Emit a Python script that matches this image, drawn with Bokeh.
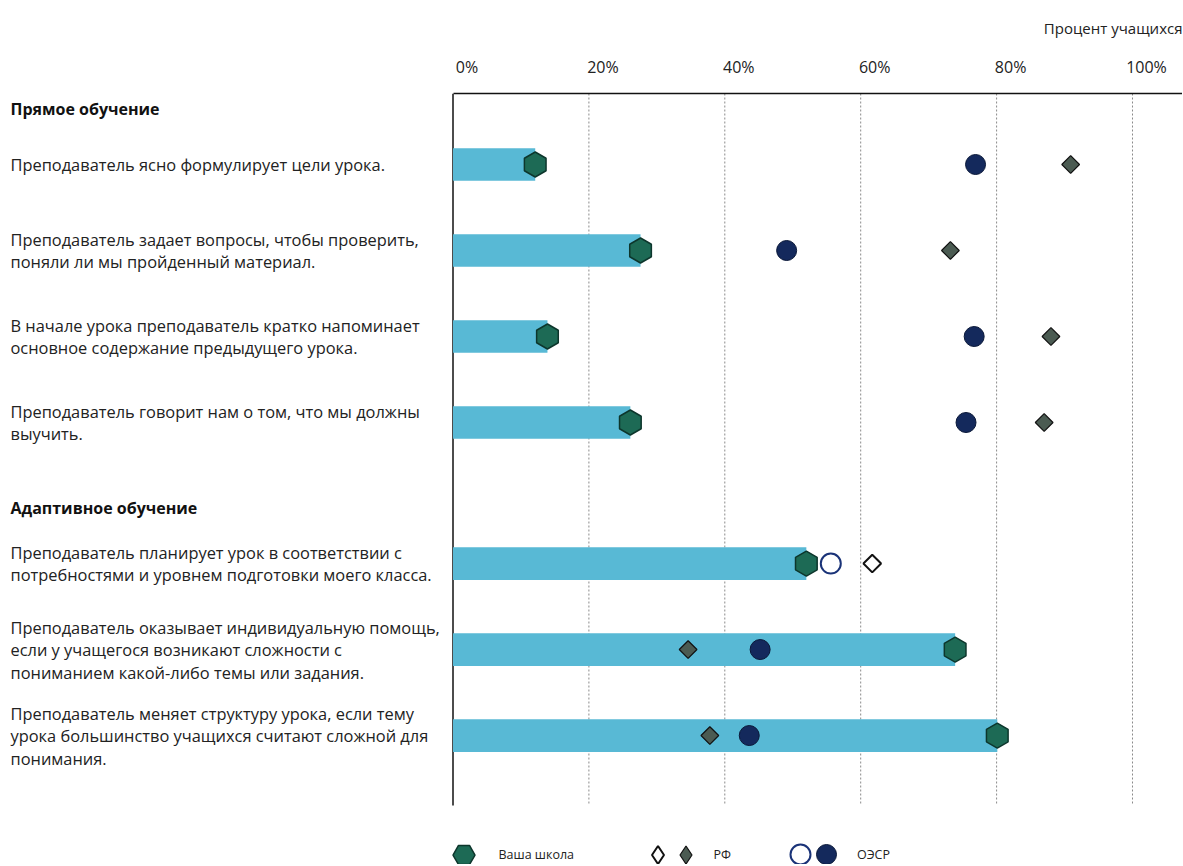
import math
from bokeh.plotting import figure
from bokeh.models import (ColumnDataSource, Range1d, Legend, LegendItem, FixedTicker,
                          LinearAxis)
from bokeh.core.properties import value
from bokeh.embed import file_html
from bokeh.resources import INLINE

# ---------------- data ----------------
groups = ["Прямое обучение", "Адаптивное обучение"]
statements = [
    "Преподаватель ясно формулирует цели урока.",
    "Преподаватель задает вопросы, чтобы проверить,\nпоняли ли мы пройденный материал.",
    "В начале урока преподаватель кратко напоминает\nосновное содержание предыдущего урока.",
    "Преподаватель говорит нам о том, что мы должны\nвыучить.",
    "Преподаватель планирует урок в соответствии с\nпотребностями и уровнем подготовки моего класса.",
    "Преподаватель оказывает индивидуальную помощь,\nесли у учащегося возникают сложности с\nпониманием какой-либо темы или задания.",
    "Преподаватель меняет структуру урока, если тему\nурока большинство учащихся считают сложной для\nпонимания.",
]
statement_group = [0, 0, 0, 0, 1, 1, 1]
school = [12.1, 27.6, 13.9, 26.1, 52.0, 73.9, 80.1]
rf = [90.9, 73.2, 88.0, 87.0, 61.7, 34.6, 37.8]
oecd = [76.9, 49.1, 76.7, 75.5, 55.6, 45.2, 43.6]
rf_significant = [True, True, True, True, False, True, True]
oecd_significant = [True, True, True, True, False, True, True]
ticks = [0, 20, 40, 60, 80, 100]
tick_labels = ["0%", "20%", "40%", "60%", "80%", "100%"]
axis_title = "Процент учащихся"
legend_labels = ["Ваша школа", "РФ", "ОЭСР"]

# ---------------- layout helpers ----------------
FONT = "Open Sans"
W, H = 1182, 864
PX_PER_UNIT = 6.795          # px per percent
ZERO_PX = 452.5              # frame px of 0%
X0 = -ZERO_PX / PX_PER_UNIT
X1 = (W - ZERO_PX) / PX_PER_UNIT
TOP_BORDER = 93
ROW_PX = 86.0
Y_TOP = -(164.0 - TOP_BORDER) / ROW_PX
Y_BOT = Y_TOP + (H - TOP_BORDER) / ROW_PX
GROUP_GAP = 0.64
Y_AXIS_END = (805.0 - 164.0) / ROW_PX
LABEL_X = X0 + 10.0 / PX_PER_UNIT
LABEL_SHIFT = 14.0 / PX_PER_UNIT   # tick labels sit to the right of their tick

ypos = [i + GROUP_GAP * g for i, g in enumerate(statement_group)]
header_y = []
for g in range(len(groups)):
    first = statement_group.index(g)
    header_y.append(ypos[first] - 0.65)

src = ColumnDataSource(dict(y=ypos, school=school, label=statements))
rf_f = ColumnDataSource(dict(x=[v for v, s in zip(rf, rf_significant) if s],
                             y=[y for y, s in zip(ypos, rf_significant) if s]))
rf_o = ColumnDataSource(dict(x=[v for v, s in zip(rf, rf_significant) if not s],
                             y=[y for y, s in zip(ypos, rf_significant) if not s]))
oe_f = ColumnDataSource(dict(x=[v for v, s in zip(oecd, oecd_significant) if s],
                             y=[y for y, s in zip(ypos, oecd_significant) if s]))
oe_o = ColumnDataSource(dict(x=[v for v, s in zip(oecd, oecd_significant) if not s],
                             y=[y for y, s in zip(ypos, oecd_significant) if not s]))
hdr = ColumnDataSource(dict(y=header_y, label=groups))
grid_src = ColumnDataSource(dict(x=[t for t in ticks if t > 0]))

p = figure(width=W, height=H, x_range=Range1d(X0, X1), y_range=Range1d(Y_BOT, Y_TOP),
           output_backend="svg", toolbar_location=None, x_axis_location=None,
           y_axis_location=None, min_border_left=0, min_border_right=0,
           min_border_bottom=0, min_border_top=TOP_BORDER, outline_line_color=None)
p.grid.visible = False
p.extra_x_ranges = {"lab": Range1d(X0 - LABEL_SHIFT, X1 - LABEL_SHIFT)}

# title
p.title.text = axis_title
p.title.align = "right"
p.title.text_font = FONT
p.title.text_font_style = "normal"
p.title.text_font_size = "15px"
p.title.text_color = "#222222"
p.title.standoff = 30

# top axis (labels drawn slightly right of their tick, as in the source chart)
ax = LinearAxis(x_range_name="lab")
ax.ticker = FixedTicker(ticks=ticks)
ax.major_label_overrides = {t: l for t, l in zip(ticks, tick_labels)}
ax.bounds = (0 - LABEL_SHIFT, X1 - LABEL_SHIFT)
ax.axis_line_color = "#111111"
ax.axis_line_width = 1.5
ax.major_tick_in = 0
ax.major_tick_out = 0
ax.minor_tick_out = 0
ax.minor_tick_in = 0
ax.major_label_standoff = 16
ax.major_label_text_font = FONT
ax.major_label_text_font_size = "16px"
ax.major_label_text_color = "#222222"
p.add_layout(ax, "above")

# grid lines and vertical axis line
p.segment(x0="x", x1="x", y0=Y_TOP, y1=Y_AXIS_END, source=grid_src,
          line_color="#8a8a8a", line_width=1, line_dash="2 2")
p.segment(x0=0, x1=0, y0=Y_TOP, y1=Y_AXIS_END, line_color="#111111", line_width=1.5)

# bars
p.hbar(y="y", left=0, right="school", height=0.38, source=src,
       fill_color="#58b9d5", line_color=None)

# markers
r_rf_f = p.scatter(x="x", y="y", source=rf_f, marker="square", angle=math.pi / 4, size=12.5,
                   fill_color="#4b5b52", line_color="#111111", line_width=1.2)
r_rf_o = p.scatter(x="x", y="y", source=rf_o, marker="square", angle=math.pi / 4, size=12.5,
                   fill_color="white", line_color="#111111", line_width=2)
r_oe_f = p.scatter(x="x", y="y", source=oe_f, marker="circle", size=20,
                   fill_color="#14295c", line_color="#0a1838", line_width=1)
r_oe_o = p.scatter(x="x", y="y", source=oe_o, marker="circle", size=20,
                   fill_color="white", line_color="#1a3378", line_width=2)
r_school = p.scatter(x="school", y="y", source=src, marker="hex", angle=math.pi / 2, size=25,
                     fill_color="#1d6a55", line_color="#0d362c", line_width=1.5)

# legend-only diamond swatches (legend glyphs are drawn unrotated); hidden in the plot
lg_rf_f = p.scatter(x="x", y="y", source=rf_f, marker="diamond", size=12, visible=False,
                    fill_color="#4b5b52", line_color="#111111", line_width=1.2)
lg_rf_o = p.scatter(x="x", y="y", source=rf_o, marker="diamond", size=12, visible=False,
                    fill_color="white", line_color="#111111", line_width=2)

# labels
p.text(x=LABEL_X, y="y", text="label", source=src, text_font=value(FONT),
       text_font_size="16.4px", text_baseline="middle", text_align="left",
       text_color="#222222", text_line_height=0.98)
p.text(x=LABEL_X, y="y", text="label", source=hdr, text_font=value(FONT),
       text_font_size="16px", text_font_style="bold", text_baseline="middle",
       text_align="left", text_color="#111111")

# legends
LEG_CY = 10  # legend centre height above the frame bottom

def mk_legend(label, renderer, cx, gw, standoff):
    lg = Legend(items=[LegendItem(label=value(label), renderers=[renderer])],
                location=(cx - gw / 2, LEG_CY - gw / 2), orientation="horizontal",
                glyph_width=gw, glyph_height=gw, label_standoff=standoff,
                spacing=0, padding=0, margin=0, label_width=0,
                border_line_alpha=0, background_fill_alpha=0,
                inactive_fill_alpha=0, click_policy="none",
                label_text_font=FONT, label_text_font_size="12.5px",
                label_text_color="#222222")
    p.add_layout(lg, "center")

mk_legend(legend_labels[0], r_school, 463, 55, 8)
mk_legend("", lg_rf_o, 657, 45, 0)
mk_legend(legend_labels[1], lg_rf_f, 685, 45, 6)
mk_legend("", r_oe_o, 800, 50, 0)
mk_legend(legend_labels[2], r_oe_f, 826, 50, 6)

open("out.html", "w").write(file_html(p, INLINE))
